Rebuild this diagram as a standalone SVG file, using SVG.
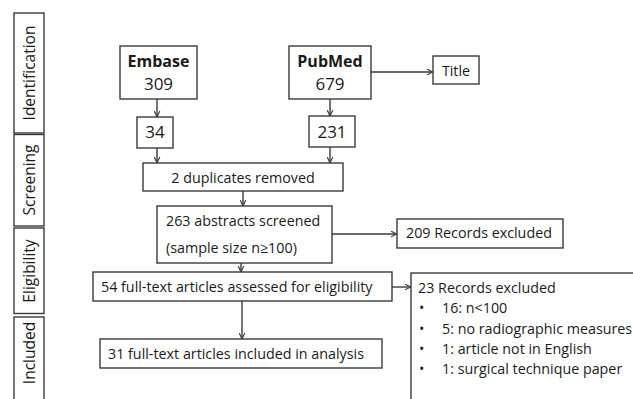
<svg xmlns="http://www.w3.org/2000/svg" width="633" height="399" viewBox="0 0 633 399">
<defs>
<marker id="arr" viewBox="0 0 10 10" refX="9.5" refY="5" markerWidth="7" markerHeight="7" markerUnits="userSpaceOnUse" orient="auto">
<path d="M1,1 L9.5,5 L1,9" fill="none" stroke="#3a3a3a" stroke-width="1.6"/>
</marker>
<style>
rect{fill:#fff;stroke:#3a3a3a;stroke-width:1.4}
text{font-family:"Open Sans","Noto Sans",sans-serif;font-size:14.3px;fill:#1a1a1a}
.c{text-anchor:middle}
.b{font-weight:bold;font-size:16px}
.n{font-size:17px}
.lbl{font-size:15.5px;text-anchor:middle}
#connectors line{stroke:#3a3a3a;stroke-width:1.4;marker-end:url(#arr)}
</style>
</defs>
<rect width="633" height="399" style="fill:#fff;stroke:none"/>
<g id="phase-identification"><rect x="14" y="13" width="30" height="120"/><text class="lbl" transform="translate(35,73) rotate(-90)">Identification</text></g>
<g id="phase-screening"><rect x="14" y="134.5" width="30" height="91.5"/><text class="lbl" transform="translate(35,180) rotate(-90)">Screening</text></g>
<g id="phase-eligibility"><rect x="14" y="228" width="30" height="85.5"/><text class="lbl" transform="translate(35,271) rotate(-90)">Eligibility</text></g>
<g id="phase-included"><rect x="14" y="317" width="30" height="90"/><text class="lbl" transform="translate(35,353) rotate(-90)">Included</text></g>

<g id="embase"><rect x="120" y="46" width="77" height="53"/><text class="c b" x="158.5" y="67">Embase</text><text class="c n" x="158.5" y="90">309</text></g>
<g id="pubmed"><rect x="289" y="46" width="82" height="53"/><text class="c b" x="330" y="67">PubMed</text><text class="c n" x="330" y="90">679</text></g>
<g id="title"><rect x="433" y="56" width="46" height="28"/><text class="c" x="456" y="76">Title</text></g>
<g id="n34"><rect x="137" y="117" width="36" height="31"/><text class="c n" x="155" y="138">34</text></g>
<g id="n231"><rect x="309" y="116" width="46" height="31"/><text class="c n" x="332" y="138">231</text></g>
<g id="duplicates"><rect x="143" y="163" width="200" height="28"/><text class="c" x="243" y="183">2 duplicates removed</text></g>
<g id="screened"><rect x="157" y="206" width="175" height="57"/><text x="166" y="226">263 abstracts screened</text><text x="166" y="253">(sample size n≥100)</text></g>
<g id="excluded209"><rect x="397" y="219" width="166" height="29"/><text x="406" y="238">209 Records excluded</text></g>
<g id="fulltext54"><rect x="93" y="272" width="299" height="29"/><text x="101" y="292">54 full-text articles assessed for eligibility</text></g>
<g id="excluded23"><rect x="411" y="273" width="240" height="140"/>
<text x="418" y="293">23 Records excluded</text>
<text x="419" y="313">•</text><text x="442" y="313">16: n&lt;100</text>
<text x="419" y="334">•</text><text x="442" y="334">5: no radiographic measures</text>
<text x="419" y="354">•</text><text x="442" y="354">1: article not in English</text>
<text x="419" y="374">•</text><text x="442" y="374">1: surgical technique paper</text>
</g>
<g id="included31"><rect x="100" y="339" width="282" height="29"/><text x="108" y="359">31 full-text articles included in analysis</text></g>

<g id="connectors">
<line x1="157" y1="99" x2="157" y2="117"/>
<line x1="157" y1="148" x2="157" y2="163"/>
<line x1="330" y1="99" x2="330" y2="116"/>
<line x1="330" y1="147" x2="330" y2="163"/>
<line x1="371" y1="72" x2="433" y2="72"/>
<line x1="243" y1="191" x2="243" y2="206"/>
<line x1="332" y1="234" x2="397" y2="234"/>
<line x1="241" y1="263" x2="241" y2="272"/>
<line x1="392" y1="287" x2="411" y2="287"/>
<line x1="242" y1="301" x2="242" y2="339"/>
</g>
</svg>
